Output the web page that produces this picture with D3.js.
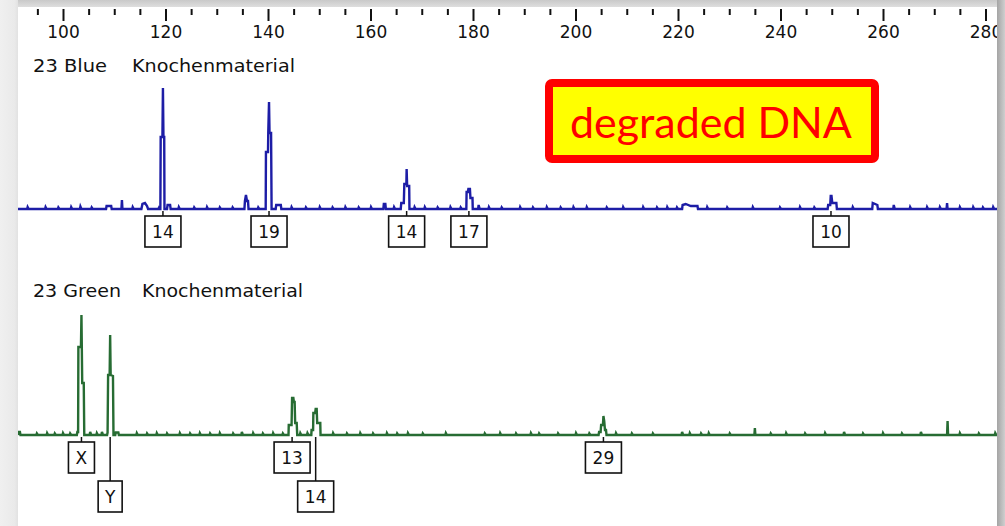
<!DOCTYPE html>
<html><head><meta charset="utf-8">
<script src="https://cdn.jsdelivr.net/npm/d3@7/dist/d3.min.js"></script>
<style>html,body{margin:0;padding:0;background:#fff;overflow:hidden}</style>
</head><body><svg id="c" width="1005" height="526"></svg>
<script>
// ---------- data (bp, RFU) ----------
const majorTicks = [100,120,140,160,180,200,220,240,260,280];
const minorTicks = [95,105,110,115,125,130,135,145,150,155,165,170,175,185,190,195,205,210,215,225,230,235,245,250,255,265,270,275,285];

const blueTitle = ["23 Blue", "Knochenmaterial"];
const greenTitle = ["23 Green", "Knochenmaterial"];

const blueTrace = [
 [91.2,0],[93.0,0],[93.1,20],[93.3,0],[96.5,0],[96.6,20],[96.8,0],[99.0,0],[99.1,15],[99.3,0],
 [101.5,0],[101.6,20],[101.8,0],[103.3,0],[103.4,25],[103.6,0],[105.5,0],[105.6,15],[105.8,0],
 [108.4,0],[108.5,30],[109.4,30],[109.5,0],[111.4,0],[111.5,90],[111.6,0],[113.5,0],[113.6,20],[113.8,0],
 [115.3,0],[115.5,50],[116.0,60],[116.4,30],[116.6,0],[118.6,0],[118.7,10],[118.8,0],
 [119.0,0],[119.06,720],[119.4,720],[119.5,1210],[119.6,720],[119.75,720],[119.8,0],
 [120.3,0],[120.4,40],[120.9,40],[121.0,0],[122.5,0],[122.6,20],[122.8,0],[125.5,0],[125.6,15],[125.8,0],
 [128.0,0],[128.1,20],[128.3,0],[130.5,0],[130.6,15],[130.8,0],[133.0,0],[133.1,15],[133.3,0],
 [135.4,0],[135.5,80],[135.7,140],[135.9,80],[136.1,80],[136.2,0],[138.0,0],[138.1,15],[138.3,0],
 [139.55,0],[139.6,570],[140.0,570],[140.05,760],[140.2,1070],[140.3,760],[140.6,760],[140.7,0],
 [141.5,0],[141.6,40],[142.5,40],[142.6,0],[144.5,0],[144.6,20],[144.8,0],[147.3,0],[147.4,15],[147.6,0],
 [150.0,0],[150.1,20],[150.3,0],[152.5,0],[152.6,15],[152.8,0],[155.0,0],[155.1,20],[155.3,0],
 [157.6,0],[157.7,15],[157.9,0],[160.0,0],[160.1,20],[160.3,0],[162.5,0],[162.6,50],[162.9,50],[163.0,0],
 [164.5,0],[164.6,20],[164.8,0],
 [165.9,0],[166.0,60],[166.5,60],[166.6,250],[167.0,250],[167.05,400],[167.15,230],[167.55,230],[167.6,0],
 [168.5,0],[168.6,20],[168.8,0],[170.5,0],[170.6,20],[170.8,0],[173.0,0],[173.1,15],[173.3,0],
 [175.5,0],[175.6,20],[175.8,0],[177.5,0],[177.6,15],[177.8,0],
 [178.7,0],[178.75,170],[179.0,170],[179.1,200],[179.4,200],[179.5,110],[179.9,110],[179.95,0],
 [181.0,0],[181.1,40],[181.3,0],[183.0,0],[183.1,20],[183.3,0],[185.5,0],[185.6,15],[185.8,0],
 [189.1,0],[189.2,20],[189.4,0],[191.6,0],[191.7,15],[191.9,0],[194.3,0],[194.4,20],[194.6,0],
 [197.0,0],[197.1,15],[197.3,0],[199.5,0],[199.6,20],[199.8,0],[202.1,0],[202.2,20],[202.4,0],
 [206.0,0],[206.1,15],[206.3,0],[209.2,0],[209.3,20],[209.5,0],[213.1,0],[213.2,20],[213.4,0],
 [215.8,0],[215.9,15],[216.1,0],[217.8,0],[217.9,20],[218.1,0],[219.7,0],[219.8,15],[220.0,0],
 [220.8,0],[220.9,40],[221.5,50],[222.5,30],[223.8,30],[223.9,0],
 [225.6,0],[225.7,20],[225.9,0],[229.5,0],[229.6,15],[229.8,0],[234.5,0],[234.6,20],[234.8,0],
 [239.8,0],[239.9,15],[240.1,0],[243.7,0],[243.8,20],[244.0,0],[246.5,0],[246.6,15],[246.8,0],
 [249.2,0],[249.3,40],[249.7,40],[249.8,130],[249.95,130],[250.1,60],[250.9,60],[251.0,0],
 [254.0,0],[254.1,20],[254.3,0],[257.9,0],[258.0,60],[258.9,40],[259.0,0],
 [262.0,0],[262.1,40],[262.3,0],[265.2,0],[265.3,20],[265.5,0],[268.5,0],[268.6,20],[268.8,0],
 [271.0,0],[271.1,20],[271.3,0],[272.4,0],[272.5,60],[272.6,0],[274.9,0],[275.0,20],[275.2,0],
 [277.5,0],[277.6,20],[277.8,0],[279.4,0],[279.5,15],[279.7,0],[281.4,0],[281.5,20],[281.7,0],[282.4,0]
];

const greenTrace = [
 [91.2,0],[91.3,30],[91.6,30],[91.7,0],[94.8,0],[94.9,15],[95.1,0],[96.8,0],[96.9,20],[97.1,0],
 [98.3,0],[98.4,15],[98.6,0],[99.9,0],[100.0,20],[100.2,0],[101.3,0],[101.4,15],[101.6,0],
 [102.7,0],[102.8,30],[102.95,30],[103.0,880],[103.5,880],[103.6,1200],[103.75,520],[104.05,520],[104.15,0],
 [105.2,0],[105.3,30],[105.5,0],[106.5,0],[106.6,20],[106.8,0],[107.5,0],[107.6,30],[107.8,0],
 [108.6,0],[108.7,25],[108.8,600],[109.1,600],[109.2,1000],[109.3,600],[109.75,590],[109.85,0],
 [110.2,0],[110.3,25],[110.8,25],[110.9,0],
 [114.3,0],[114.4,20],[114.6,0],[116.3,0],[116.4,15],[116.6,0],[118.2,0],[118.3,20],[118.5,0],
 [120.2,0],[120.3,15],[120.5,0],[122.7,0],[122.8,20],[123.0,0],[124.7,0],[124.8,15],[125.0,0],
 [126.6,0],[126.7,20],[126.9,0],[128.6,0],[128.7,15],[128.9,0],[130.5,0],[130.6,20],[130.8,0],
 [133.1,0],[133.2,15],[133.4,0],[134.8,0],[134.9,30],[135.1,0],[137.0,0],[137.1,20],[137.3,0],
 [138.9,0],[139.0,15],[139.2,0],[140.9,0],[141.0,20],[141.2,0],[142.8,0],[142.9,15],[143.1,0],
 [144.0,0],[144.05,100],[144.6,100],[144.7,370],[144.95,370],[145.05,330],[145.2,330],[145.3,120],[145.6,120],[145.7,0],
 [146.2,0],[146.3,20],[146.5,0],[147.6,0],[147.7,20],[147.9,0],
 [148.45,0],[148.5,50],[148.8,50],[148.85,220],[149.2,220],[149.3,260],[149.5,260],[149.6,120],[150.2,120],[150.25,0],
 [152.6,0],[152.7,20],[152.9,0],[155.3,0],[155.4,15],[155.6,0],[157.9,0],[158.0,20],[158.2,0],
 [160.4,0],[160.5,15],[160.7,0],[163.1,0],[163.2,20],[163.4,0],[165.1,0],[165.2,15],[165.4,0],
 [167.2,0],[167.3,20],[167.5,0],[170.1,0],[170.2,15],[170.4,0],[174.6,0],[174.7,20],[174.9,0],
 [182.2,0],[182.3,15],[182.5,0],[185.2,0],[185.3,20],[185.5,0],[188.3,0],[188.4,15],[188.6,0],
 [191.2,0],[191.3,20],[191.5,0],[192.8,0],[192.9,15],[193.1,0],[196.5,0],[196.6,15],[196.8,0],
 [200.0,0],[200.1,20],[200.3,0],[202.6,0],[202.7,15],[202.9,0],
 [204.5,0],[204.6,30],[204.9,30],[205.0,100],[205.35,100],[205.45,190],[205.6,140],[205.75,50],[205.95,50],[206.05,0],
 [207.8,0],[207.9,20],[208.1,0],[210.9,0],[211.0,15],[211.2,0],[215.0,0],[215.1,15],[215.3,0],
 [220.7,0],[220.8,30],[221.0,0],[222.2,0],[222.3,20],[222.5,0],[224.4,0],[224.5,15],[224.7,0],
 [225.9,0],[226.0,20],[226.2,0],[230.0,0],[230.1,15],[230.3,0],[234.9,0],[235.0,70],[235.1,0],
 [238.0,0],[238.1,15],[238.3,0],[241.0,0],[241.1,20],[241.3,0],[244.7,0],[244.8,15],[245.0,0],
 [248.6,0],[248.7,20],[248.9,0],[252.3,0],[252.4,30],[252.6,0],[256.0,0],[256.1,15],[256.3,0],
 [259.9,0],[260.0,20],[260.2,0],[263.6,0],[263.7,15],[263.9,0],[267.3,0],[267.4,30],[267.6,0],
 [272.5,0],[272.6,140],[272.7,0],[274.9,0],[275.0,20],[275.2,0],[278.6,0],[278.7,15],[278.9,0],
 [281.8,0],[281.9,20],[282.1,0],[282.4,0]
];

const blueAlleles = ["14","19","14","17","10"];
const blueAlleleBp = [119.5,140.2,167.05,179.2,249.85];
const blueAlleleRow = [0,0,0,0,0];

const greenAlleles = ["X","Y","13","14","29"];
const greenAlleleBp = [103.6,109.2,144.7,149.3,205.45];
const greenAlleleRow = [0,1,0,1,0];

const noteText = "degraded DNA";

// ---------- drawing ----------
const svg = d3.select("#c");
const W = 1005, H = 526;
const defs = svg.append("defs");

const gTop = defs.append("linearGradient").attr("id","gTop").attr("x1",0).attr("y1",0).attr("x2",0).attr("y2",1);
gTop.append("stop").attr("offset","0%").attr("stop-color","#c9c9c9");
gTop.append("stop").attr("offset","100%").attr("stop-color","#dedede");
const gLeft = defs.append("linearGradient").attr("id","gLeft").attr("x1",0).attr("y1",0).attr("x2",1).attr("y2",0);
gLeft.append("stop").attr("offset","0%").attr("stop-color","#f0f0f0");
gLeft.append("stop").attr("offset","80%").attr("stop-color","#eaeaea");
gLeft.append("stop").attr("offset","100%").attr("stop-color","#e2e2e2");
const gRight = defs.append("linearGradient").attr("id","gRight").attr("x1",0).attr("y1",0).attr("x2",1).attr("y2",0);
gRight.append("stop").attr("offset","0%").attr("stop-color","#a4a4a4");
gRight.append("stop").attr("offset","100%").attr("stop-color","#cfcfcf");

defs.append("clipPath").attr("id","panel").append("rect")
  .attr("x",18).attr("y",7).attr("width",979).attr("height",H-7);

svg.append("rect").attr("width",W).attr("height",H).attr("fill","#fff");
svg.append("rect").attr("x",0).attr("y",0).attr("width",W).attr("height",7).attr("fill","url(#gTop)");
svg.append("rect").attr("x",0).attr("y",0).attr("width",18).attr("height",H).attr("fill","url(#gLeft)");
svg.append("rect").attr("x",997).attr("y",0).attr("width",8).attr("height",H).attr("fill","url(#gRight)");

const x = d3.scaleLinear().domain([100,280]).range([63,985.5]);
const yBlue = d3.scaleLinear().domain([0,1000]).range([209,109]);
const yGreen = d3.scaleLinear().domain([0,1000]).range([435,335]);

const plot = svg.append("g").attr("clip-path","url(#panel)");

// axis
const axMinor = plot.append("g").attr("transform","translate(0,9)")
  .call(d3.axisBottom(x).tickValues(minorTicks).tickSize(6).tickFormat(""));
const axMajor = plot.append("g").attr("transform","translate(0,9)")
  .call(d3.axisBottom(x).tickValues(majorTicks).tickSize(12).tickPadding(5).tickFormat(d3.format("d")));
[axMinor, axMajor].forEach(a=>{
  a.select(".domain").remove();
  a.selectAll(".tick line").attr("stroke","#111").attr("stroke-width",2);
});
axMajor.selectAll(".tick text").attr("fill","#111")
  .style("font-family","'DejaVu Sans', sans-serif").style("font-size","17px");

// titles
function title(parts, baseline, x2, w1, w2){
  const g = plot.append("g").style("font-family","'DejaVu Sans', sans-serif").style("font-size","18px").attr("fill","#111");
  g.append("text").attr("x",33).attr("y",baseline).attr("textLength",w1).attr("lengthAdjust","spacingAndGlyphs").text(parts[0]);
  g.append("text").attr("x",x2).attr("y",baseline).attr("textLength",w2).attr("lengthAdjust","spacingAndGlyphs").text(parts[1]);
}
title(blueTitle, 71.5, 132, 74, 163);
title(greenTitle, 297, 142, 88, 161);

// traces
const lineB = d3.line().x(d=>x(d[0])).y(d=>yBlue(d[1]));
const lineG = d3.line().x(d=>x(d[0])).y(d=>yGreen(d[1]));
plot.append("path").attr("d",lineB(blueTrace)).attr("fill","none")
  .attr("stroke","#1d1da6").attr("stroke-width",2.4).attr("stroke-linejoin","miter");
plot.append("path").attr("d",lineG(greenTrace)).attr("fill","none")
  .attr("stroke","#276c33").attr("stroke-width",2.4).attr("stroke-linejoin","miter");

// allele boxes
function alleles(labels, bps, rows, ys){
  const base = ys(0);
  labels.forEach((lab,i)=>{
    const cx = x(bps[i]);
    const top = base + (rows[i]===0 ? 7 : 46);
    const g = plot.append("g");
    plot.append("line").attr("x1",cx).attr("x2",cx).attr("y1",base+2).attr("y2",top)
      .attr("stroke","#111").attr("stroke-width",1.5);
    const t = g.append("text").attr("x",cx).attr("y",top+22).attr("text-anchor","middle")
      .style("font-family","'DejaVu Sans', sans-serif").style("font-size","17px").attr("fill","#111").text(lab);
    const tw = t.node().getComputedTextLength();
    const bw = Math.round(tw + 14);
    g.insert("rect","text").attr("x",cx-bw/2).attr("y",top).attr("width",bw).attr("height",31)
      .attr("fill","#fff").attr("stroke","#111").attr("stroke-width",1.6);
  });
}
alleles(blueAlleles, blueAlleleBp, blueAlleleRow, yBlue);
alleles(greenAlleles, greenAlleleBp, greenAlleleRow, yGreen);

// note box
const note = svg.append("g");
note.append("rect").attr("x",549).attr("y",83).attr("width",326).attr("height",76).attr("rx",3)
  .attr("fill","#ffff00").attr("stroke","#ff0000").attr("stroke-width",8);
const nt = note.append("text").attr("x",570).attr("y",138)
  .style("font-family","Lato, 'Open Sans', sans-serif").style("font-size","44px").attr("fill","#ff0000").text(noteText);
const nw = nt.node().getComputedTextLength();
nt.style("font-size", (44*282/nw).toFixed(2)+"px");
</script></body></html>
